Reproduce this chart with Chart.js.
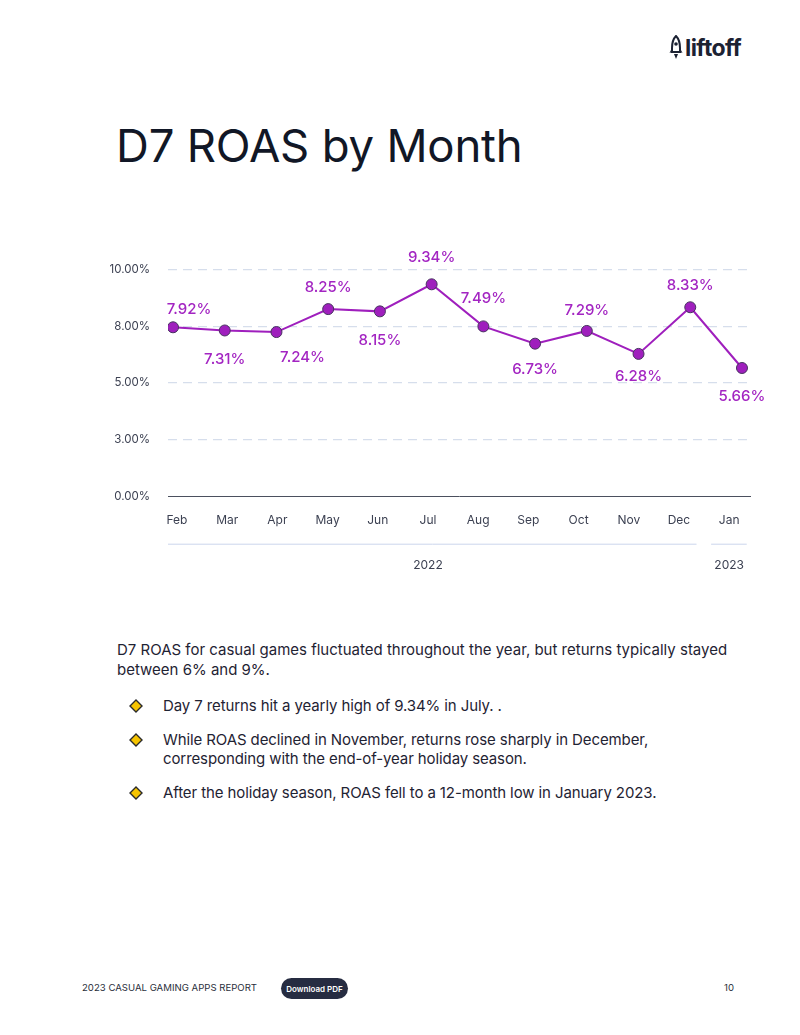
<!DOCTYPE html>
<html>
<head>
<meta charset="utf-8">
<script src="https://cdn.jsdelivr.net/npm/chart.js@4.4.1/dist/chart.umd.min.js"></script>
<style>
  html, body { margin: 0; padding: 0; background: #fff; }
  body { width: 800px; height: 1035px; position: relative; overflow: hidden; font-family: Inter, "Noto Sans", sans-serif; color: #1c2130; }
  .logo { position: absolute; left: 669px; top: 34px; display: flex; align-items: center; }
  .logo span { font-family: Inter, sans-serif; font-weight: 700; font-size: 23px; letter-spacing: -0.6px; color: #1c2233; margin-left: 2px; }
  h1 { position: absolute; left: 116px; top: 116px; margin: 0; font-weight: 400; font-size: 45.5px; letter-spacing: -0.2px; color: #111726; line-height: 60px; white-space: nowrap; }
  #wrap { position: absolute; left: 100px; top: 230px; width: 670px; height: 360px; }
  .para { position: absolute; left: 117px; top: 640px; width: 640px; font-size: 15px; line-height: 20px; color: #1f2333; margin: 0; }
  ul { position: absolute; left: 117px; top: 696px; margin: 0; padding: 0; list-style: none; width: 620px; }
  li { position: relative; padding-left: 46px; font-size: 15px; line-height: 19.5px; color: #1f2333; margin-bottom: 14px; letter-spacing: -0.1px; }
  li svg { position: absolute; left: 12px; top: 3px; }
  .foot { position: absolute; top: 982px; font-size: 9.6px; color: #2b2f3c; }
  .btn { position: absolute; left: 281px; top: 978px; width: 67px; height: 21px; border-radius: 11px; background: #262c41; color: #fff; font-size: 8px; font-weight: 600; display: flex; align-items: center; justify-content: center; }
</style>
</head>
<body>
<div class="logo">
  <svg width="14" height="26" viewBox="0 0 14 26">
    <path d="M7 1 C10 4 11 8 11 13 L11 17 L3 17 L3 13 C3 8 4 4 7 1 Z" fill="none" stroke="#1c2233" stroke-width="2"/>
    <circle cx="7" cy="9" r="1.8" fill="#1c2233"/>
    <path d="M3 13 L0.5 18 L3 17 Z M11 13 L13.5 18 L11 17 Z" fill="#1c2233"/>
    <path d="M5 19 L9 19 L7 24 Z" fill="#1c2233"/>
  </svg>
  <span>liftoff</span>
</div>
<h1>D7 ROAS by Month</h1>
<div id="wrap"><canvas id="c"></canvas></div>
<p class="para">D7 ROAS for casual games fluctuated throughout the year, but returns typically stayed between 6% and 9%.</p>
<ul>
  <li><svg width="14" height="14" viewBox="0 0 14 14"><path d="M7 1 L13 7 L7 13 L1 7 Z" fill="#f6c400" stroke="#2a2a2a" stroke-width="1.4"/></svg>Day 7 returns hit a yearly high of 9.34% in July. .</li>
  <li><svg width="14" height="14" viewBox="0 0 14 14"><path d="M7 1 L13 7 L7 13 L1 7 Z" fill="#f6c400" stroke="#2a2a2a" stroke-width="1.4"/></svg>While ROAS declined in November, returns rose sharply in December, corresponding with the end-of-year holiday season.</li>
  <li><svg width="14" height="14" viewBox="0 0 14 14"><path d="M7 1 L13 7 L7 13 L1 7 Z" fill="#f6c400" stroke="#2a2a2a" stroke-width="1.4"/></svg>After the holiday season, ROAS fell to a 12-month low in January 2023.</li>
</ul>
<div class="foot" style="left:82px">2023 CASUAL GAMING APPS REPORT</div>
<div class="btn">Download PDF</div>
<div class="foot" style="left:724px">10</div>

<script>
// ---- data ----
const months = ['Feb','Mar','Apr','May','Jun','Jul','Aug','Sep','Oct','Nov','Dec','Jan'];
// plotted positions
const roas = [7.45, 7.31, 7.24, 8.25, 8.15, 9.34, 7.49, 6.73, 7.29, 6.28, 8.33, 5.66];
// printed value labels
const valueLabels = ['7.92%','7.31%','7.24%','8.25%','8.15%','9.34%','7.49%','6.73%','7.29%','6.28%','8.33%','5.66%'];
const yTicks = [0, 2.5, 5, 7.5, 10];
const years = ['2022', '2023'];
const yearFirst = [0, 11];
const yearLast = [10, 11];

// ---- styling (label placement) ----
const labelDy = [-18, 29, 25, -22, 29, -27, -28, 26, -20, 23, -22, 28];
const labelDx = [16, 0, 26, 0, 0, 0, 0, 0, 0, 0, 0, 0];
const PURPLE = '#9f1fbd';
const LABEL = '#a325c2';
const TICK = '#3c4152';

const valueLabelPlugin = {
  id: 'valueLabels',
  afterDatasetsDraw(chart) {
    const ctx = chart.ctx;
    const meta = chart.getDatasetMeta(0);
    ctx.save();
    ctx.font = '500 15px Inter, "Noto Sans", sans-serif';
    ctx.fillStyle = LABEL;
    ctx.textAlign = 'center';
    ctx.textBaseline = 'middle';
    meta.data.forEach((pt, i) => {
      ctx.fillText(valueLabels[i], pt.x + labelDx[i], pt.y + labelDy[i]);
    });
    ctx.restore();
  }
};

const yearGroupPlugin = {
  id: 'yearGroups',
  afterDraw(chart) {
    const sc = chart.scales.xl;
    const ca = chart.chartArea;
    const ctx = chart.ctx;
    const step = sc.getPixelForValue(1) - sc.getPixelForValue(0);
    ctx.save();
    years.forEach((yr, g) => {
      const a = sc.getPixelForValue(yearFirst[g]);
      const b = sc.getPixelForValue(yearLast[g]);
      const x0 = Math.max(ca.left, a - 0.36 * step);
      const x1 = Math.min(ca.right, b + 0.35 * step);
      const ly = ca.bottom + 47.5;
      ctx.strokeStyle = '#cbd6ec';
      ctx.lineWidth = 1;
      ctx.beginPath();
      ctx.moveTo(x0, ly);
      ctx.lineTo(x1, ly);
      ctx.stroke();
      ctx.font = '12px Inter, "Noto Sans", sans-serif';
      ctx.fillStyle = TICK;
      ctx.textAlign = 'center';
      ctx.textBaseline = 'middle';
      ctx.fillText(yr, (a + b) / 2, ca.bottom + 68.5);
    });
    ctx.restore();
  }
};

new Chart(document.getElementById('c'), {
  type: 'line',
  data: {
    datasets: [{
      data: roas.map((v, i) => ({ x: i, y: v })),
      borderColor: PURPLE,
      borderWidth: 2,
      pointRadius: 5.5,
      pointBackgroundColor: PURPLE,
      pointBorderColor: '#47335f',
      pointBorderWidth: 1,
      tension: 0,
      xAxisID: 'x',
      yAxisID: 'y'
    }]
  },
  options: {
    responsive: true,
    maintainAspectRatio: false,
    animation: false,
    layout: { padding: { top: 39.3, right: 20, left: 0, bottom: 0 } },
    plugins: { legend: { display: false }, tooltip: { enabled: false } },
    scales: {
      x: {
        type: 'linear',
        display: false,
        min: -0.097,
        max: 11.155
      },
      xl: {
        type: 'linear',
        position: 'bottom',
        min: -0.179,
        max: 11.415,
        afterBuildTicks(scale) { scale.ticks = months.map((m, i) => ({ value: i })); },
        afterFit(scale) { scale.height = 93.3; },
        grid: { display: false, drawTicks: false },
        border: { display: true, color: '#4b505e', width: 1 },
        ticks: {
          autoSkip: false,
          maxRotation: 0,
          padding: 16,
          color: TICK,
          font: { family: 'Inter, "Noto Sans", sans-serif', size: 12 },
          callback: (v) => months[v]
        }
      },
      y: {
        type: 'linear',
        min: 0,
        max: 10,
        afterBuildTicks(scale) { scale.ticks = yTicks.map(v => ({ value: v })); },
        afterFit(scale) { scale.width = 68; },
        border: { display: false, dash: [9, 6] },
        grid: {
          drawTicks: false,
          color: (c) => c.tick && c.tick.value === 0 ? 'rgba(0,0,0,0)' : '#d6deec',
          lineWidth: 1.2
        },
        ticks: {
          padding: 18,
          color: TICK,
          font: { family: 'Inter, "Noto Sans", sans-serif', size: 11.5 },
          callback: (v) => Math.round(v).toFixed(2) + '%'
        }
      }
    }
  },
  plugins: [valueLabelPlugin, yearGroupPlugin]
});
</script>
</body>
</html>
